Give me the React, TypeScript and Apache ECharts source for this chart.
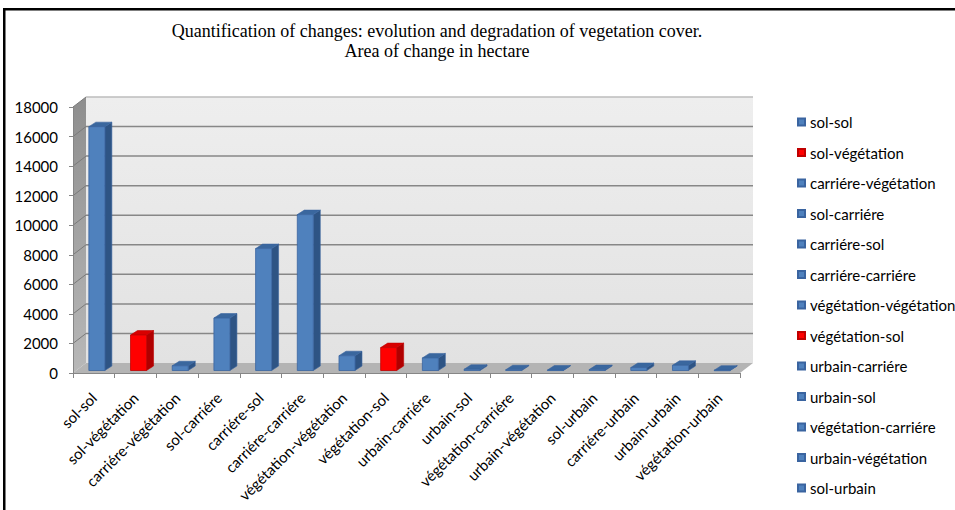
import React, { useEffect, useRef } from "react";
import * as echarts from "echarts";

const categories = [
  "sol-sol",
  "sol-végétation",
  "carriére-végétation",
  "sol-carriére",
  "carriére-sol",
  "carriére-carriére",
  "végétation-végétation",
  "végétation-sol",
  "urbain-carriére",
  "urbain-sol",
  "végétation-carriére",
  "urbain-végétation",
  "sol-urbain",
  "carriére-urbain",
  "urbain-urbain",
  "végétation-urbain",
];
const values = [16500, 2400, 320, 3550, 8250, 10550, 1000, 1550, 850, 80, 50, 30, 60, 200, 350, 20];
const redCategories = ["sol-végétation", "végétation-sol"];
const legendNames = [
  "sol-sol",
  "sol-végétation",
  "carriére-végétation",
  "sol-carriére",
  "carriére-sol",
  "carriére-carriére",
  "végétation-végétation",
  "végétation-sol",
  "urbain-carriére",
  "urbain-sol",
  "végétation-carriére",
  "urbain-végétation",
  "sol-urbain",
];
const yMin = 0;
const yMax = 18000;
const yInterval = 2000;

const TITLE = "Quantification of changes: evolution and degradation of vegetation cover.\nArea of change in hectare";

const DX = 13;
const DY = -10;
const BLUE = { front: "#4F81BD", side: "#2E5484", top: "#3A679E", stroke: "#3A64A0" };
const RED = { front: "#FF0000", side: "#B00000", top: "#D80000", stroke: "#C00000" };

export default function App() {
  const ref = useRef<HTMLDivElement>(null);
  useEffect(() => {
    const chart = echarts.init(ref.current!, undefined, { renderer: "svg" });
    const tickValues: number[] = [];
    for (let v = yMin; v <= yMax; v += yInterval) tickValues.push(v);

    const wallSeries = {
      type: "custom",
      z: 1,
      silent: true,
      data: [[0, 0]],
      renderItem: (params: any, api: any) => {
        const cs = params.coordSys;
        const x0 = cs.x, x1 = cs.x + cs.width;
        const yT = cs.y, yB = cs.y + cs.height;
        const children: any[] = [];
        children.push({
          type: "rect",
          shape: { x: x0 + DX, y: yT + DY, width: x1 - x0, height: yB - yT },
          style: {
            fill: new echarts.graphic.LinearGradient(0, 0, 0, 1, [
              { offset: 0, color: "#EEEEEE" },
              { offset: 1, color: "#E2E2E2" },
            ]),
          },
        });
        children.push({
          type: "polygon",
          shape: { points: [[x0, yT], [x0 + DX, yT + DY], [x0 + DX, yB + DY], [x0, yB]] },
          style: {
            fill: new echarts.graphic.LinearGradient(0, 0, 0, 1, [
              { offset: 0, color: "#8E8E8E" },
              { offset: 1, color: "#B8B8B8" },
            ]),
          },
        });
        children.push({
          type: "polygon",
          shape: { points: [[x0, yB], [x1, yB], [x1 + DX, yB + DY], [x0 + DX, yB + DY]] },
          style: { fill: "#B4B4B4" },
        });
        tickValues.forEach((t) => {
          const y = api.coord([0, t])[1];
          if (t !== yMin) {
            children.push({
              type: "line",
              shape: { x1: x0 + DX, y1: y + DY, x2: x1 + DX, y2: y + DY },
              style: { stroke: t === yMax ? "#BDBDBD" : "#878787", lineWidth: 1.5 },
            });
            children.push({
              type: "line",
              shape: { x1: x0, y1: y, x2: x0 + DX, y2: y + DY },
              style: { stroke: "#7A7A7A", lineWidth: 1 },
            });
          }
        });
        return { type: "group", children };
      },
    };

    const barSeries = {
      type: "custom",
      z: 3,
      data: categories.map((c, i) => [i, values[i]]),
      renderItem: (params: any, api: any) => {
        const i = api.value(0);
        const v = api.value(1);
        const base = api.coord([i, 0]);
        const top = api.coord([i, v]);
        const pal = redCategories.includes(categories[i]) ? RED : BLUE;
        const hw = 8;
        const bx = 3, by = -2.5;
        const dx = 7, dy = -4.5;
        const xl = base[0] - hw + bx;
        const xr = base[0] + hw + bx;
        const yb = base[1] + by;
        const yt = top[1] + by;
        return {
          type: "group",
          children: [
            {
              type: "polygon",
              shape: { points: [[xr, yb], [xr + dx, yb + dy], [xr + dx, yt + dy], [xr, yt]] },
              style: { fill: pal.side, stroke: pal.stroke, lineWidth: 0.6 },
            },
            {
              type: "polygon",
              shape: { points: [[xl, yt], [xr, yt], [xr + dx, yt + dy], [xl + dx, yt + dy]] },
              style: { fill: pal.top, stroke: pal.stroke, lineWidth: 0.6 },
            },
            {
              type: "rect",
              shape: { x: xl, y: yt, width: xr - xl, height: Math.max(yb - yt, 0.5) },
              style: { fill: pal.front, stroke: pal.stroke, lineWidth: 0.8 },
            },
          ],
        };
      },
    };

    const legendSeries = legendNames.map((n) => ({
      type: "bar",
      name: n,
      data: [],
      itemStyle: {
        color: redCategories.includes(n) ? RED.front : BLUE.front,
        borderColor: redCategories.includes(n) ? RED.stroke : BLUE.stroke,
        borderWidth: 0.8,
      },
    }));

    chart.setOption({
      animation: false,
      backgroundColor: "#ffffff",
      title: {
        text: TITLE,
        left: 437,
        top: 21,
        textAlign: "center",
        padding: 0,
        textStyle: {
          fontFamily: "Liberation Serif",
          fontWeight: "normal",
          fontSize: 18,
          lineHeight: 20,
          color: "#000",
        },
      },
      legend: {
        orient: "vertical",
        left: 797,
        top: 114,
        padding: 0,
        itemWidth: 7,
        itemHeight: 7,
        itemGap: 14.5,
        icon: "rect",
        selectedMode: false,
        data: legendNames,
        textStyle: { fontFamily: "Lato", fontSize: 15, color: "#000", lineHeight: 16 },
      },
      grid: { left: 73, right: 215, top: 107, bottom: 137, containLabel: false },
      xAxis: {
        type: "category",
        data: categories,
        boundaryGap: true,
        axisLine: { show: true, lineStyle: { color: "#868686", width: 1 } },
        axisTick: { show: true, length: 5, lineStyle: { color: "#868686" } },
        axisLabel: {
          interval: 0,
          rotate: 45,
          margin: 22,
          fontFamily: "Lato",
          fontSize: 15,
          color: "#000",
        },
        splitLine: { show: false },
        z: 5,
      },
      yAxis: {
        type: "value",
        min: yMin,
        max: yMax,
        interval: yInterval,
        axisLine: { show: true, lineStyle: { color: "#868686", width: 1 } },
        axisTick: { show: true, length: 4, lineStyle: { color: "#868686" } },
        axisLabel: {
          margin: 15,
          fontFamily: "Lato",
          fontSize: 15,
          color: "#000",
          formatter: (v: number) => String(v),
        },
        splitLine: { show: false },
        z: 5,
      },
      graphic: [
        { type: "rect", shape: { x: 3, y: 8, width: 952, height: 2.5 }, style: { fill: "#000" }, z: 100 },
        { type: "rect", shape: { x: 3, y: 8, width: 2.5, height: 502 }, style: { fill: "#000" }, z: 100 },
      ],
      series: [wallSeries, barSeries, ...legendSeries],
    });
    return () => chart.dispose();
  }, []);
  return (
    <div
      ref={ref}
      style={{ position: "fixed", left: 0, top: 0, width: 955, height: 510 }}
    />
  );
}
